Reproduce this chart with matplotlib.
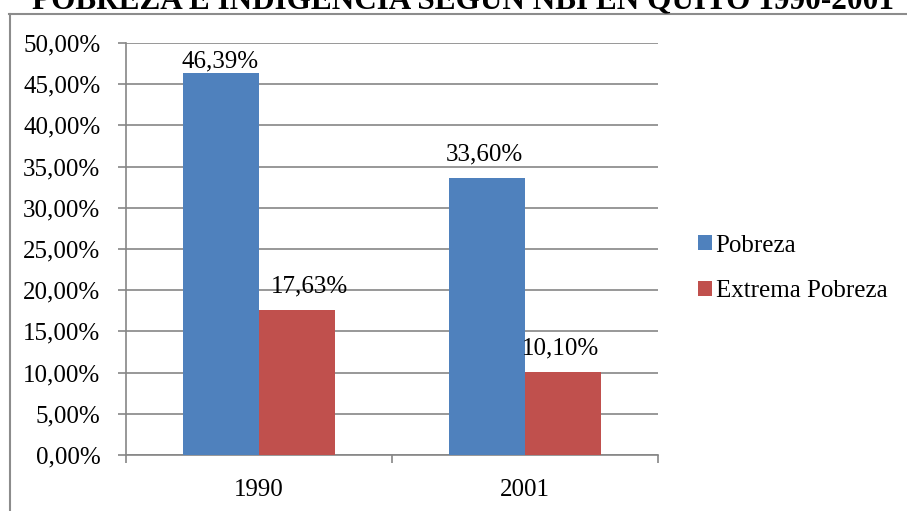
import matplotlib
matplotlib.use("Agg")
import matplotlib.pyplot as plt
import numpy as np
from matplotlib.lines import Line2D

categories = ["1990", "2001"]
pobreza = [46.39, 33.60]
extrema = [17.63, 10.10]
series_names = ["Pobreza", "Extrema Pobreza"]
colors = ["#4F81BD", "#C0504D"]
title = "POBREZA E INDIGENCIA SEGÚN NBI EN QUITO 1990-2001"

plt.rcParams['font.family'] = ['Liberation Serif', 'DejaVu Serif']
W, H = 907, 511
fig = plt.figure(figsize=(W/100, H/100), dpi=100)

# outer frame (top and left visible)
fig.add_artist(Line2D([9/W, 1], [1-14/H, 1-14/H], color="#8c8c8c", lw=1.5))
fig.add_artist(Line2D([9.5/W, 9.5/W], [0, 1-14/H], color="#8c8c8c", lw=1.5))

fig.text(463/W, 1-9/H, title, ha="center", va="baseline", fontsize=22.5, fontweight="bold")

ax = fig.add_axes([126/W, 1-455/H, (658-126)/W, (455-43)/H])
x = np.arange(len(categories))
bw = 0.286
b1 = ax.bar(x - bw/2, pobreza, bw, color=colors[0], label=series_names[0], zorder=3)
b2 = ax.bar(x + bw/2, extrema, bw, color=colors[1], label=series_names[1], zorder=3)

fs = 18
fmt = lambda v: f"{v:.2f}".replace(".", ",") + "%"
# label offsets (points): (dx, dy) of baseline above bar top
offsets = {(0, 0): (-1, 4), (0, 1): (-2, 13), (1, 0): (9, 12.5), (1, 1): (-1.5, 12.5)}
for si, (bars, vals) in enumerate(((b1, pobreza), (b2, extrema))):
    for ci, (r, v) in enumerate(zip(bars, vals)):
        dx, dy = offsets[(si, ci)]
        ax.annotate(fmt(v), (r.get_x() + r.get_width()/2, v), xytext=(dx, dy),
                    textcoords="offset points", ha="center", va="baseline", fontsize=fs,
                    zorder=5)

ax.set_xlim(-0.5, 1.5)
ax.set_ylim(0, 50)
ax.set_yticks(np.arange(0, 50.1, 5))
ax.set_yticklabels([fmt(v) for v in np.arange(0, 50.1, 5)], fontsize=fs)
ax.set_xticks(x)
ax.set_xticklabels(categories, fontsize=fs)
ax.tick_params(axis="x", length=0, pad=17)
ax.set_xticks([-0.5, 0.5, 1.5], minor=True)
ax.tick_params(axis="x", which="minor", length=6, color="#868686", width=1.2)
ax.tick_params(axis="y", length=6, color="#868686", width=1.2, pad=12.5)
ax.grid(axis="y", color="#868686", lw=1.2, zorder=0)
for s in ["top", "right"]:
    ax.spines[s].set_visible(False)
for s in ["left", "bottom"]:
    ax.spines[s].set_color("#868686")
    ax.spines[s].set_linewidth(1.2)

ax.legend(loc="center left", bbox_to_anchor=(698/W, 1-268.5/H), bbox_transform=fig.transFigure,
          frameon=False, fontsize=fs, handlelength=0.55, handleheight=0.55, handletextpad=0.15,
          labelspacing=0.95, borderpad=0, borderaxespad=0)

fig.savefig("out.png", dpi=100)
